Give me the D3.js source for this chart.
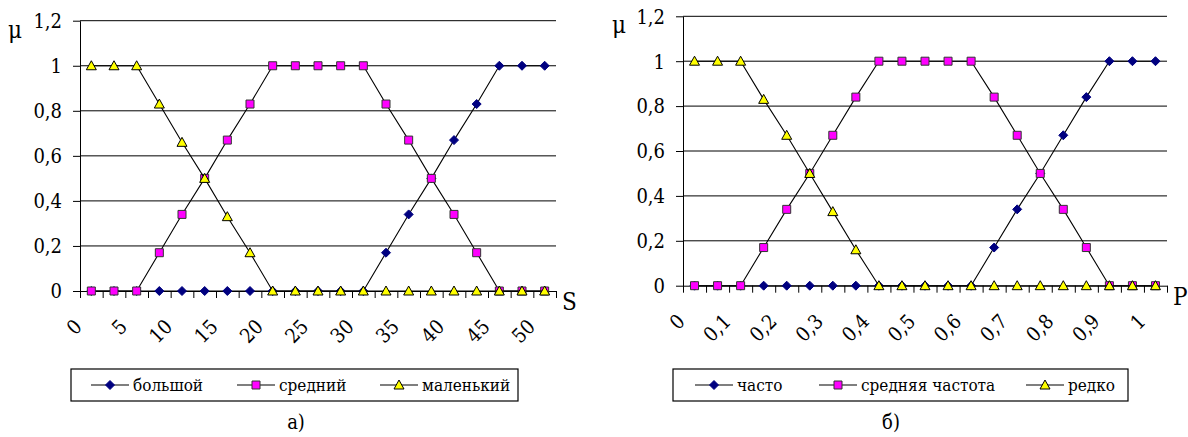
<!DOCTYPE html>
<html lang="ru">
  <head>
    <meta charset="UTF-8" />
    <title>Функции принадлежности</title>
    <script src="https://d3js.org/d3.v7.min.js"></script>
    <style>
      body {
        margin: 0;
        background: #fff;
      }
      svg text {
        font-stretch: condensed;
      }
      .grid line {
        stroke: #000;
        stroke-width: 1;
      }
      .axis path,
      .axis line {
        stroke: #000;
        stroke-width: 1;
      }
    </style>
  </head>
  <body>
    <svg id="chart" width="1188" height="437"></svg>
    <script>
      // категории по оси X
      const sCategories = [0, 2.5, 5, 7.5, 10, 12.5, 15, 17.5, 20, 22.5, 25, 27.5, 30, 32.5, 35, 37.5, 40, 42.5, 45, 47.5, 50];
      const pCategories = [0, 0.05, 0.1, 0.15, 0.2, 0.25, 0.3, 0.35, 0.4, 0.45, 0.5, 0.55, 0.6, 0.65, 0.7, 0.75, 0.8, 0.85, 0.9, 0.95, 1];
      // подписанные категории
      const sLabelled = [0, 5, 10, 15, 20, 25, 30, 35, 40, 45, 50];
      const pLabelled = [0, 0.1, 0.2, 0.3, 0.4, 0.5, 0.6, 0.7, 0.8, 0.9, 1];
      const yTicks = [0, 0.2, 0.4, 0.6, 0.8, 1, 1.2];

      // а) S
      const bolshoy = [0, 0, 0, 0, 0, 0, 0, 0, 0, 0, 0, 0, 0, 0.17, 0.34, 0.5, 0.67, 0.83, 1, 1, 1];
      const sredniy = [0, 0, 0, 0.17, 0.34, 0.5, 0.67, 0.83, 1, 1, 1, 1, 1, 0.83, 0.67, 0.5, 0.34, 0.17, 0, 0, 0];
      const malenkiy = [1, 1, 1, 0.83, 0.66, 0.5, 0.33, 0.17, 0, 0, 0, 0, 0, 0, 0, 0, 0, 0, 0, 0, 0];

      // б) P
      const chasto = [0, 0, 0, 0, 0, 0, 0, 0, 0, 0, 0, 0, 0, 0.17, 0.34, 0.5, 0.67, 0.84, 1, 1, 1];
      const srednyaya = [0, 0, 0, 0.17, 0.34, 0.5, 0.67, 0.84, 1, 1, 1, 1, 1, 0.84, 0.67, 0.5, 0.34, 0.17, 0, 0, 0];
      const redko = [1, 1, 1, 0.83, 0.67, 0.5, 0.33, 0.16, 0, 0, 0, 0, 0, 0, 0, 0, 0, 0, 0, 0, 0];

      const comma = (v) => String(v).replace(".", ",");
      const FONT = "DejaVu Serif";

      const markers = {
        diamond: { d: "M0,-4.5L4.5,0L0,4.5L-4.5,0Z", fill: "#000080", stroke: "#000080" },
        square: { d: "M-4,-4H4V4H-4Z", fill: "#ff00ff", stroke: "#333" },
        triangle: { d: "M0,-5L5,4H-5Z", fill: "#ffff00", stroke: "#000" },
      };

      const svg = d3.select("#chart");

      function drawChart(cfg) {
        const g = svg.append("g");
        const x = d3
          .scaleBand()
          .domain(cfg.categories)
          .range([cfg.left, cfg.right])
          .padding(0);
        const xEdge = d3
          .scaleLinear()
          .domain([0, cfg.categories.length])
          .range([cfg.left, cfg.right]);
        const y = d3.scaleLinear().domain([0, 1.2]).range([cfg.bottom, cfg.top]);
        const cx = (c) => x(c) + x.bandwidth() / 2;

        // сетка
        g.append("g")
          .attr("class", "grid")
          .selectAll("line")
          .data(yTicks.filter((t) => t > 0))
          .join("line")
          .attr("x1", cfg.left)
          .attr("x2", cfg.right)
          .attr("y1", (d) => y(d))
          .attr("y2", (d) => y(d));

        // ось Y
        const ya = g
          .append("g")
          .attr("class", "axis")
          .attr("transform", `translate(${cfg.left},0)`)
          .call(
            d3
              .axisLeft(y)
              .tickValues(yTicks)
              .tickSize(7)
              .tickSizeOuter(0)
              .tickPadding(11)
              .tickFormat(comma)
          );
        ya.attr("font-family", FONT).attr("font-size", 20);
        ya.selectAll("text").attr("dy", "0.34em");

        // ось X (деления между категориями)
        g.append("g")
          .attr("class", "axis")
          .attr("transform", `translate(0,${cfg.bottom})`)
          .call(
            d3
              .axisBottom(xEdge)
              .tickValues(d3.range(cfg.categories.length + 1))
              .tickSize(7)
              .tickSizeOuter(0)
              .tickFormat("")
          );

        // подписи X, повернутые на 45°
        const c = Math.SQRT1_2;
        g.append("g")
          .selectAll("text")
          .data(cfg.labelled)
          .join("text")
          .attr(
            "transform",
            (d) => `matrix(${c},${-c},${c},${c},${x(d) + 3},${cfg.bottom + 37})`
          )
          .attr("text-anchor", "end")
          .attr("font-family", FONT)
          .attr("font-size", 20)
          .text(comma);

        // ряды
        cfg.series.forEach((s) => {
          const pts = cfg.categories.map((c, i) => [cx(c), y(s.values[i])]);
          g.append("path")
            .attr("d", d3.line()(pts))
            .attr("fill", "none")
            .attr("stroke", "#000")
            .attr("stroke-width", 1.1);
          const m = markers[s.marker];
          g.append("g")
            .selectAll("path")
            .data(pts)
            .join("path")
            .attr("d", m.d)
            .attr("transform", (p) => `translate(${p[0]},${p[1]})`)
            .attr("fill", m.fill)
            .attr("stroke", m.stroke)
            .attr("stroke-width", 1);
        });

        // μ и название оси
        g.append("text")
          .attr("x", cfg.muX)
          .attr("y", cfg.top + 17)
          .attr("font-family", FONT)
          .attr("font-size", 24)
          .text("μ");
        g.append("text")
          .attr("x", cfg.right + 6)
          .attr("y", cfg.bottom + 19)
          .attr("font-family", FONT)
          .attr("font-size", 24)
          .text(cfg.axisName);

        // легенда
        const lg = g.append("g");
        lg.append("rect")
          .attr("x", cfg.legend.x0)
          .attr("y", 369)
          .attr("width", cfg.legend.x1 - cfg.legend.x0)
          .attr("height", 32)
          .attr("fill", "#fff")
          .attr("stroke", "#000")
          .attr("stroke-width", 1.2);
        cfg.series.forEach((s, i) => {
          const lx = cfg.legend.items[i];
          lg.append("line")
            .attr("x1", lx - 19)
            .attr("x2", lx + 19)
            .attr("y1", 385)
            .attr("y2", 385)
            .attr("stroke", "#000")
            .attr("stroke-width", 1.1);
          const m = markers[s.marker];
          lg.append("path")
            .attr("d", m.d)
            .attr("transform", `translate(${lx},385)`)
            .attr("fill", m.fill)
            .attr("stroke", m.stroke);
          lg.append("text")
            .attr("x", lx + 23)
            .attr("y", 391)
            .attr("font-family", FONT)
            .attr("font-size", 17)
            .text(s.name);
        });

        g.append("text")
          .attr("x", cfg.captionX)
          .attr("y", 429)
          .attr("text-anchor", "middle")
          .attr("font-family", FONT)
          .attr("font-size", 20)
          .text(cfg.caption);
      }

      drawChart({
        categories: sCategories,
        labelled: sLabelled,
        left: 80,
        right: 556,
        top: 20.7,
        bottom: 291,
        muX: 8,
        axisName: "S",
        series: [
          { name: "большой", values: bolshoy, marker: "diamond" },
          { name: "средний", values: sredniy, marker: "square" },
          { name: "маленький", values: malenkiy, marker: "triangle" },
        ],
        legend: { x0: 71, x1: 518, items: [110, 256, 399] },
        caption: "а)",
        captionX: 296,
      });

      drawChart({
        categories: pCategories,
        labelled: pLabelled,
        left: 683,
        right: 1167,
        top: 16.3,
        bottom: 285.7,
        muX: 612,
        axisName: "P",
        series: [
          { name: "часто", values: chasto, marker: "diamond" },
          { name: "средняя частота", values: srednyaya, marker: "square" },
          { name: "редко", values: redko, marker: "triangle" },
        ],
        legend: { x0: 673, x1: 1128, items: [714, 838, 1045] },
        caption: "б)",
        captionX: 891,
      });
    </script>
  </body>
</html>
